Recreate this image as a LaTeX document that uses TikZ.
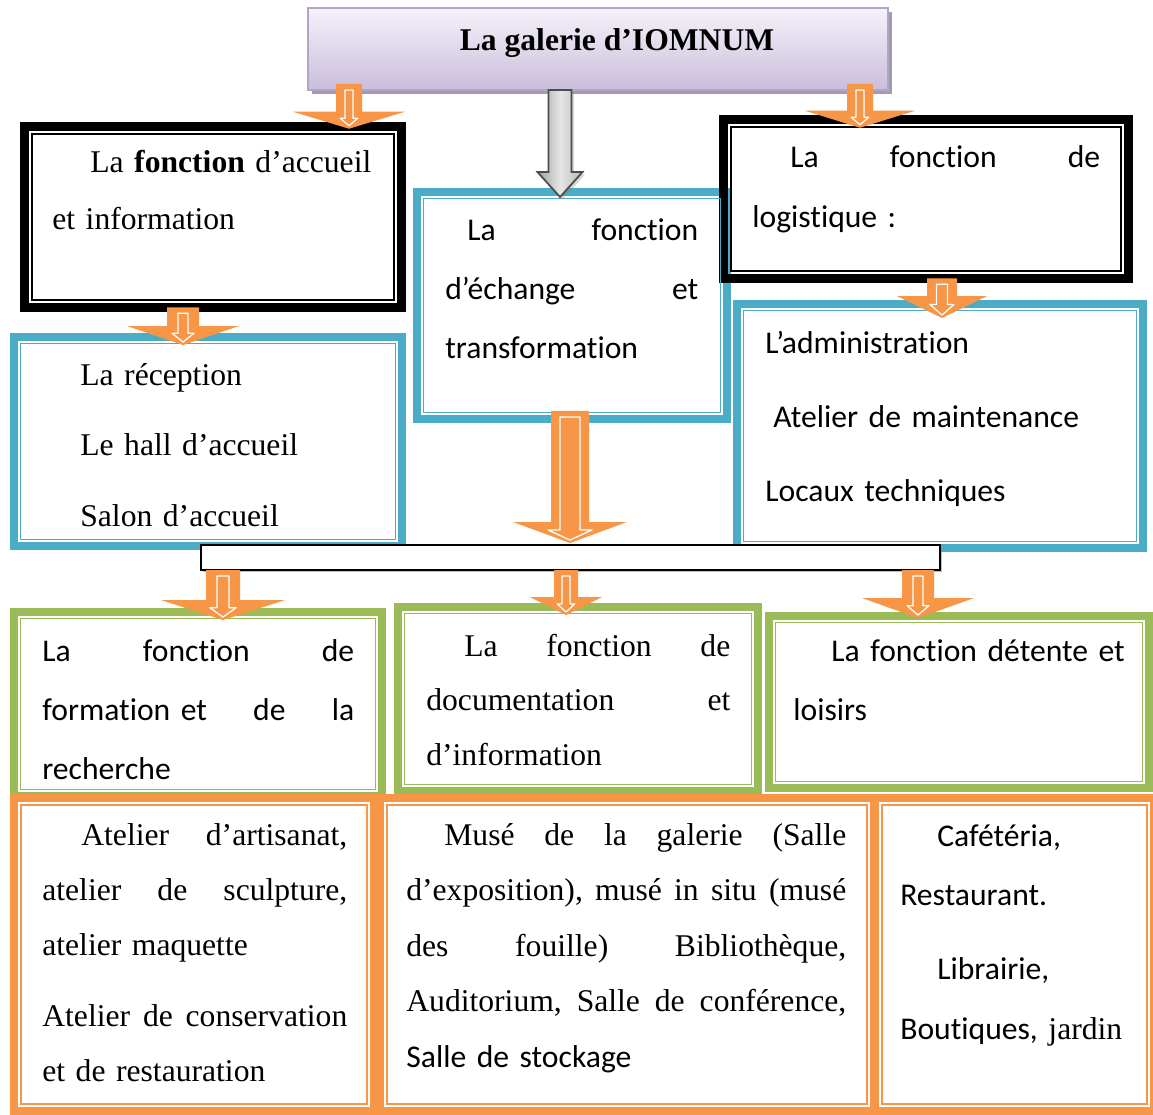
\documentclass[tikz,border=0pt]{standalone}
\usepackage{fontspec}
\setmainfont{Liberation Serif}
\newfontfamily\carlito[Ligatures=NoCommon]{Carlito}
\usetikzlibrary{calc, fit, shadows}
\definecolor{tealframe}{RGB}{75, 172, 198}
\definecolor{greenframe}{RGB}{155, 187, 89}
\definecolor{orangeframe}{RGB}{247, 150, 70}
\definecolor{lavtop}{RGB}{245, 242, 250}
\definecolor{lavbot}{RGB}{202, 190, 219}
\definecolor{lavborder}{RGB}{180, 164, 200}
\definecolor{lavshadow}{RGB}{163, 156, 174}

\tikzset{
  frm/.style={draw=#1, line width=4.6pt, inner sep=-2.3pt, outer sep=0pt},
  blackfrm/.style={draw=black, line width=5.4pt, inner sep=-2.7pt, outer sep=0pt},
  tnr/.style={inner sep=0pt, anchor=base west, align=left, font=\fontsize{18}{#1}\selectfont},
  cal/.style={inner sep=0pt, anchor=base west, align=left, font=\carlito\fontsize{18}{#1}\selectfont},
}

% thin line inside a frame
\newcommand\boxline[3]{\draw[draw=#2, line width=0.9pt] ([shift={(#3,#3)}]#1.north west) rectangle ([shift={(-#3,-#3)}]#1.south east);}

% orange block arrow: start, end, shaft, head, head length, inner shaft
\newcommand\blockarrow[6]{%
  \coordinate (ba-s) at (#1);
  \coordinate (ba-e) at (#2);
  \fill[orangeframe] ($(ba-s)+(-#3,0)$) -- ($(ba-e)+(-#3,-#5)$) -- ($(ba-e)+(-#4,-#5)$) -- (ba-e)
      -- ($(ba-e)+(#4,-#5)$) -- ($(ba-e)+(#3,-#5)$) -- ($(ba-s)+(#3,0)$) -- cycle;
  \draw[white, line width=0.7pt, line join=round] ($(ba-s)+(-#6,6)$) -- ($(ba-e)+(-#6,-0.62*#5)$)
      -- ($(ba-e)+(-2.2*#6,-0.62*#5)$) -- ($(ba-e)+(0,-3)$) -- ($(ba-e)+(2.2*#6,-0.62*#5)$)
      -- ($(ba-e)+(#6,-0.62*#5)$) -- ($(ba-s)+(#6,6)$) -- cycle;
}

\begin{document}
\begin{tikzpicture}[x=0.02cm, y=-0.02cm]
    \fill[white] (0,0) rectangle (1153,1115);
    \useasboundingbox (0,0) rectangle (1153,1115);

    % Title
    \node[fit={(308,8) (888,90)}, inner sep=0pt, outer sep=0pt, draw=lavborder, line width=1.2pt,
          top color=lavtop, bottom color=lavbot,
          drop shadow={shadow xshift=0.08cm, shadow yshift=-0.08cm, opacity=1, fill=lavshadow}] (title) {};
    \node[font=\bfseries\fontsize{18}{22}\selectfont, anchor=base, inner sep=0pt] (titletext) at (617,51) {La galerie d’IOMNUM};

    % First row
    \node[blackfrm, fit={(20,122) (406,312)}] (acc) {};
    \node[frm=tealframe, fit={(413,188) (731,423)}] (ech) {};
    \node[blackfrm, fit={(719,115) (1133,283)}] (log) {};
    \node[frm=tealframe, fit={(10,333) (406,550)}] (recep) {};
    \node[frm=tealframe, fit={(733,300) (1147,552)}] (adm) {};
    \boxline{acc}{black}{7}
    \boxline{ech}{tealframe}{6.5}
    \boxline{log}{black}{7}
    \boxline{recep}{tealframe}{6.5}
    \boxline{adm}{tealframe}{6.5}

    % Second row
    \node[frm=greenframe, fit={(10,608) (386,800)}] (form) {};
    \node[frm=greenframe, fit={(394,603) (762,795)}] (doc) {};
    \node[frm=greenframe, fit={(765,612) (1153,792)}] (det) {};
    \boxline{form}{greenframe}{6.5}
    \boxline{doc}{greenframe}{6.5}
    \boxline{det}{greenframe}{6.5}

    % Third row
    \node[frm=orangeframe, fit={(376,794) (878,1115)}] (musee) {};
    \node[frm=orangeframe, fit={(10,794) (378,1115)}] (atel) {};
    \node[frm=orangeframe, fit={(871,794) (1158,1115)}] (cafe) {};
    \boxline{atel}{orangeframe}{7}
    \boxline{musee}{orangeframe}{7}
    \boxline{cafe}{orangeframe}{7}

    % Bar
    \node[draw=black, line width=1.2pt, fill=white, inner sep=0pt, outer sep=0pt, fit={(201,545) (940,570)},
          drop shadow={shadow xshift=0.04cm, shadow yshift=-0.04cm, opacity=0.5}] (bar) {};

    % Arrow columns
    \coordinate (colA) at (349,0);
    \coordinate (colB) at (860,0);
    \coordinate (colC) at (183,0);
    \coordinate (colD) at (942,0);
    \coordinate (colE) at (570,0);
    \coordinate (colF) at (223,0);
    \coordinate (colG) at (566,0);
    \coordinate (colH) at (918,0);
    \coordinate (colM) at (560,0);

    % Gray arrow
    \coordinate (gs) at (title.south -| colM);
    \coordinate (ge) at ($(ech.north -| colM)+(0,5)$);
    \draw[draw=gray!60!black, line width=1pt, line join=miter, left color=gray!75, right color=gray!55, middle color=gray!20,
          drop shadow={shadow xshift=0.05cm, shadow yshift=-0.05cm, opacity=0.3}]
        ($(gs)+(-11.5,0)$) -- ($(ge)+(-11.5,-25)$) -- ($(ge)+(-22.5,-25)$) -- (ge)
        -- ($(ge)+(22.5,-25)$) -- ($(ge)+(11.5,-25)$) -- ($(gs)+(11.5,0)$) -- cycle;

    % Orange arrows
    \blockarrow{$(title.south -| colA)+(0,-6)$}{$(acc.north -| colA)+(0,2)$}{13}{56}{17}{4}
    \blockarrow{$(title.south -| colB)+(0,-6)$}{$(log.north -| colB)+(0,8)$}{13}{55}{17}{4}
    \blockarrow{acc.south -| colC}{$(recep.north -| colC)+(0,8)$}{16}{56}{19}{5}
    \blockarrow{log.south -| colD}{$(adm.north -| colD)+(0,14)$}{15}{45}{22}{5.5}
    \blockarrow{$(ech.south -| colE)+(0,-8)$}{$(bar.north -| colE)+(0,-2)$}{19}{57}{21}{10}
    \blockarrow{bar.south -| colF}{$(form.north -| colF)+(0,8)$}{17}{62}{20}{6}
    \blockarrow{bar.south -| colG}{$(doc.north -| colG)+(0,8)$}{12}{36}{18}{4}
    \blockarrow{bar.south -| colH}{$(det.north -| colH)+(0,2)$}{16}{56}{20}{5}

    % Texts
    \node[tnr=32.4pt, text width=6.42cm] (t-acc) at (52,173) {\hspace*{0.76cm}La \textbf{fonction} d’accueil\\ et information};
    \node[cal=33.6pt, text width=5.06cm] (t-ech) at (445,240) {\hspace*{0.44cm}La\hfill fonction\\ d’échange\hfill et\\ transformation};
    \node[cal=33.6pt, text width=6.96cm] (t-log) at (752,168) {\hspace*{0.76cm}La\hfill fonction\hfill de\\ logistique :};
    \node[tnr=40.4pt, text width=6.2cm] (t-rec) at (80,385) {La réception\\ Le hall d’accueil\\ Salon d’accueil};
    \node[cal=42.4pt, text width=7.4cm] (t-adm) at (765,353) {L’administration\\ \hspace*{0.16cm}Atelier de maintenance\\ Locaux techniques};
    \node[cal=33.6pt, text width=6.24cm] (t-form) at (42,661) {La\hfill fonction\hfill de\\ formation et\hfill de\hfill la\\ recherche};
    \node[tnr=31.3pt, text width=6.08cm] (t-doc) at (426,656) {\hspace*{0.76cm}La\hfill fonction\hfill de\\ documentation\hfill et\\ d’information};
    \node[cal=33.6pt, text width=7cm] (t-det) at (793,661) {\hspace*{0.76cm}La fonction détente et\\ loisirs};
    \node[tnr=31.5pt, text width=6.10cm] (t-atel) at (42,845) {\hspace*{0.78cm}Atelier\hfill d’artisanat,\\ atelier\hfill de\hfill sculpture,\\ atelier maquette\\[8.8pt] Atelier\hfill de\hfill conservation\\ et de restauration};
    \node[tnr=31.6pt, text width=8.8cm] (t-mus) at (406,845) {\hspace*{0.76cm}Musé\hfill de\hfill la\hfill galerie\hfill (Salle\\ d’exposition),\hfill musé\hfill in\hfill situ\hfill (musé\\ des\hfill fouille)\hfill Bibliothèque,\\ Auditorium,\hfill Salle\hfill de\hfill conférence,\\ {\carlito Salle de stockage}};
    \node[cal=34pt, text width=5cm] (t-caf) at (900,846) {\hspace*{0.74cm}Cafétéria,\\ Restaurant.\\[8pt] \hspace*{0.74cm}Librairie,\\ Boutiques, {\rmfamily jardin}};
\end{tikzpicture}
\end{document}
